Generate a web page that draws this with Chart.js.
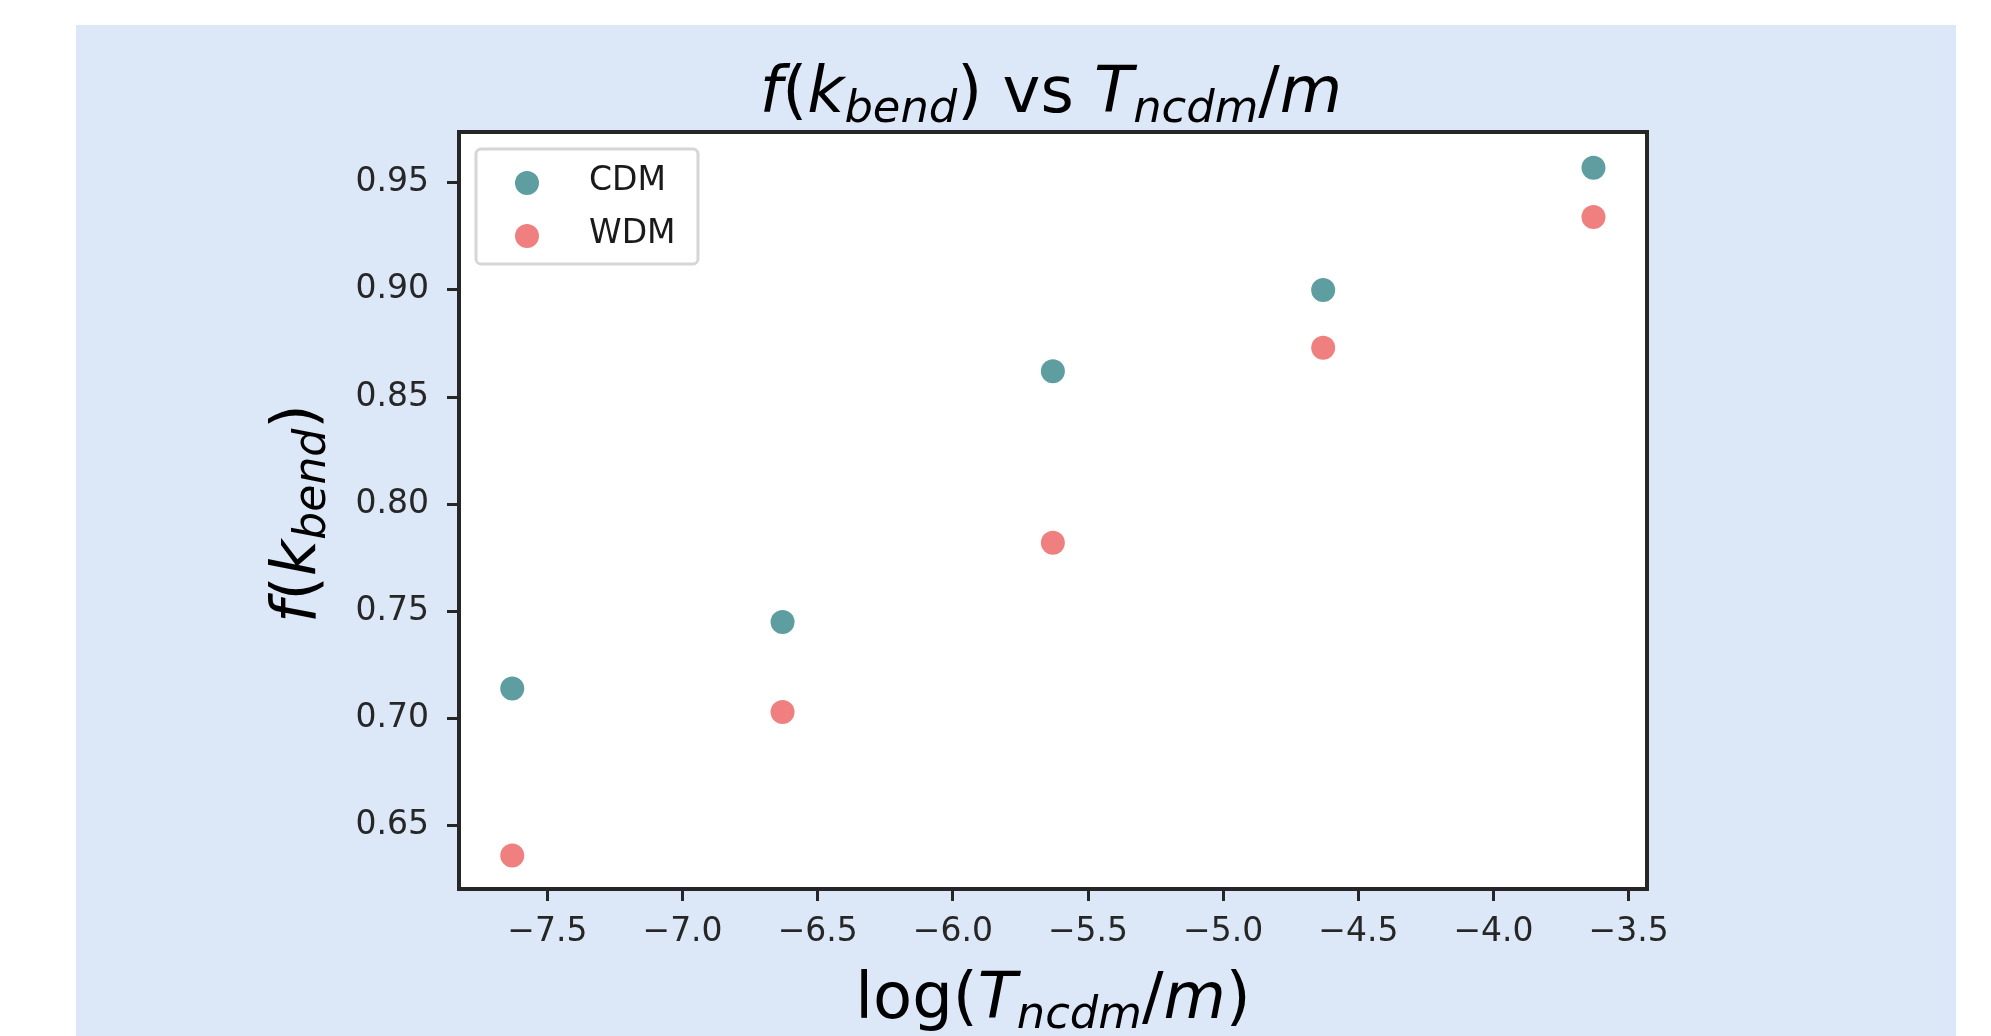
<!DOCTYPE html>
<html>
<head>
<meta charset="utf-8">
<title>f(k_bend) vs T_ncdm/m</title>
<script src="https://cdn.jsdelivr.net/npm/chart.js@4.4.1/dist/chart.umd.min.js"></script>
<style>
  html, body { margin: 0; padding: 0; background: #ffffff; }
  #wrap { width: 1991px; height: 1036px; position: relative; }
</style>
</head>
<body>
<div id="wrap"><canvas id="bend-chart" width="1991" height="1036"></canvas></div>
<script>
// data
const logT = [-7.63, -6.63, -5.63, -4.63, -3.63];
const cdmBend = [0.714, 0.745, 0.862, 0.900, 0.957];
const wdmBend = [0.636, 0.703, 0.782, 0.873, 0.934];
const xTicks = [-7.5, -7.0, -6.5, -6.0, -5.5, -5.0, -4.5, -4.0, -3.5];
const yTicks = [0.65, 0.70, 0.75, 0.80, 0.85, 0.90, 0.95];
const seriesNames = ['CDM', 'WDM'];
const seriesColors = ['#5f9ea0', '#f08080'];

const FONT = '"DejaVu Sans", sans-serif';
const INK = '#262626';

// draw text made of pieces (italic / subscript), mathtext-like
function drawRich(ctx, parts, x, y, size) {
  const fontOf = p => (p.i ? 'italic ' : '') + (p.sub ? size * 0.7 : size) + 'px ' + FONT;
  let total = 0;
  parts.forEach(p => { ctx.font = fontOf(p); p.w = ctx.measureText(p.t).width; total += p.w; });
  let cx = x - total / 2;
  ctx.textAlign = 'left';
  ctx.textBaseline = 'alphabetic';
  parts.forEach(p => {
    ctx.font = fontOf(p);
    ctx.fillText(p.t, cx, p.sub ? y + size * 0.16 : y);
    cx += p.w;
  });
}

const titleParts = [
  {t: 'f', i: true}, {t: '('}, {t: 'k', i: true}, {t: 'bend', i: true, sub: true}, {t: ')'},
  {t: ' vs '}, {t: 'T', i: true}, {t: 'ncdm', i: true, sub: true}, {t: '/'}, {t: 'm', i: true}
];
const xTitleParts = [
  {t: 'log('}, {t: 'T', i: true}, {t: 'ncdm', i: true, sub: true}, {t: '/'}, {t: 'm', i: true}, {t: ')'}
];
const yTitleParts = [
  {t: 'f', i: true}, {t: '('}, {t: 'k', i: true}, {t: 'bend', i: true, sub: true}, {t: ')'}
];

const figurePlugin = {
  id: 'figure',
  beforeDraw(chart) {
    const { ctx, chartArea } = chart;
    ctx.save();
    ctx.fillStyle = '#dce7f7';
    ctx.fillRect(76, 25, 1880, 1011);
    ctx.fillStyle = '#ffffff';
    ctx.fillRect(chartArea.left, chartArea.top, chartArea.width, chartArea.height);
    ctx.restore();
  },
  afterDraw(chart) {
    const { ctx, chartArea } = chart;
    ctx.save();
    // frame
    ctx.strokeStyle = INK;
    ctx.lineWidth = 4;
    ctx.strokeRect(chartArea.left, chartArea.top, chartArea.width, chartArea.height);

    // titles
    ctx.fillStyle = '#000000';
    drawRich(ctx, titleParts, 1051, 112, 64);
    drawRich(ctx, xTitleParts, (chartArea.left + chartArea.right) / 2, 1018, 64);
    ctx.save();
    ctx.translate(315, (chartArea.top + chartArea.bottom) / 2 + 3);
    ctx.rotate(-Math.PI / 2);
    drawRich(ctx, yTitleParts, 0, 0, 63);
    ctx.restore();

    // legend, upper left inside the axes
    ctx.beginPath();
    ctx.roundRect(476, 149, 222, 115, 5);
    ctx.fillStyle = 'rgba(255,255,255,0.8)';
    ctx.fill();
    ctx.strokeStyle = '#d6d6d6';
    ctx.lineWidth = 3;
    ctx.stroke();
    chart.data.datasets.forEach((ds, i) => {
      const y = 183 + i * 53;
      ctx.beginPath();
      ctx.arc(527, y, 12, 0, Math.PI * 2);
      ctx.fillStyle = ds.backgroundColor;
      ctx.fill();
      ctx.fillStyle = '#1a1a1a';
      ctx.font = '33px ' + FONT;
      ctx.textAlign = 'left';
      ctx.textBaseline = 'middle';
      ctx.fillText(ds.label, 589, y - 2);
    });
    ctx.restore();
  }
};

const minus = v => (v < 0 ? '\u2212' : '') + Math.abs(v).toFixed(1);

new Chart(document.getElementById('bend-chart').getContext('2d'), {
  type: 'scatter',
  data: {
    datasets: [
      {
        label: seriesNames[0],
        data: logT.map((x, i) => ({ x: x, y: cdmBend[i] })),
        backgroundColor: seriesColors[0],
        borderWidth: 0,
        pointRadius: 12,
        pointHoverRadius: 12
      },
      {
        label: seriesNames[1],
        data: logT.map((x, i) => ({ x: x, y: wdmBend[i] })),
        backgroundColor: seriesColors[1],
        borderWidth: 0,
        pointRadius: 12,
        pointHoverRadius: 12
      }
    ]
  },
  options: {
    responsive: false,
    animation: false,
    devicePixelRatio: 1,
    layout: {
      padding: { left: 0, top: 132, right: 344, bottom: 0 }
    },
    plugins: {
      legend: { display: false },
      title: { display: false },
      tooltip: { enabled: false }
    },
    scales: {
      x: {
        type: 'linear',
        min: -7.827,
        max: -3.432,
        afterBuildTicks(scale) { scale.ticks = xTicks.map(v => ({ value: v })); },
        afterFit(scale) { scale.height = 147; },
        ticks: {
          padding: 12,
          color: INK,
          font: { family: FONT, size: 33 },
          callback: v => minus(v)
        },
        grid: {
          drawOnChartArea: false,
          drawTicks: true,
          tickLength: 12,
          tickWidth: 3,
          tickColor: INK
        },
        border: { display: false }
      },
      y: {
        type: 'linear',
        min: 0.6204,
        max: 0.9737,
        afterBuildTicks(scale) { scale.ticks = yTicks.map(v => ({ value: v })); },
        afterFit(scale) { scale.width = 459; },
        ticks: {
          padding: 18,
          color: INK,
          font: { family: FONT, size: 33 },
          callback: v => v.toFixed(2)
        },
        grid: {
          drawOnChartArea: false,
          drawTicks: true,
          tickLength: 12,
          tickWidth: 3,
          tickColor: INK
        },
        border: { display: false }
      }
    }
  },
  plugins: [figurePlugin]
});
</script>
</body>
</html>
